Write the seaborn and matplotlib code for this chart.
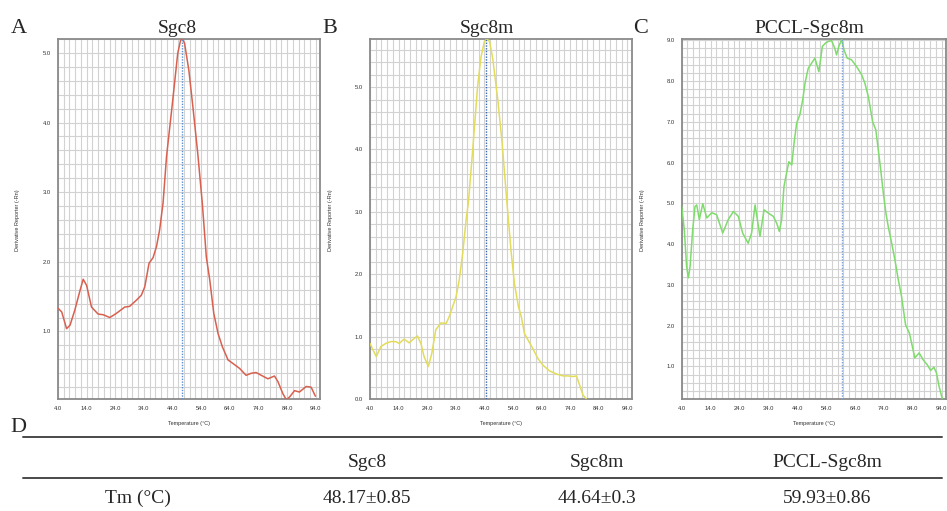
import numpy as np
import pandas as pd
import matplotlib
matplotlib.use("Agg")
import matplotlib.pyplot as plt
import seaborn as sns
from matplotlib.lines import Line2D
from matplotlib.ticker import MultipleLocator, FixedLocator

sns.set_style("white")
plt.rcParams['font.family'] = ['Liberation Sans', 'DejaVu Sans']

# ---------------- data ----------------
samples = ["Sgc8", "Sgc8m", "PCCL-Sgc8m"]
letters = ["A", "B", "C"]

sgc8_temp = [4.1, 5.3, 7.0, 8.2, 9.9, 11.7, 12.8, 14.0, 15.7, 18.0, 19.8, 22.1, 24.4, 27.3,
             29.0, 31.4, 33.1, 34.3, 35.8, 37.2, 38.4, 39.5, 40.7, 41.9, 44.2, 45.8, 46.8,
             47.4, 48.2, 49.7, 51.1, 52.8, 54.4, 55.8, 57.0, 58.4, 59.9, 61.4, 63.4, 65.1,
             67.4, 69.7, 71.5, 73.2, 75.0, 77.3, 79.6, 80.8, 82.5, 83.7, 84.9, 86.6, 88.3,
             90.7, 92.4, 93.9]
sgc8_deriv = [1.33, 1.28, 1.04, 1.09, 1.31, 1.59, 1.75, 1.66, 1.35, 1.25, 1.24, 1.20, 1.26,
              1.35, 1.36, 1.45, 1.52, 1.64, 1.98, 2.06, 2.22, 2.46, 2.85, 3.51, 4.37, 4.99,
              5.18, 5.20, 5.14, 4.75, 4.23, 3.56, 2.84, 2.07, 1.74, 1.26, 0.97, 0.78, 0.59,
              0.54, 0.47, 0.37, 0.40, 0.41, 0.37, 0.32, 0.36, 0.28, 0.11, 0.02, 0.06, 0.15,
              0.13, 0.21, 0.20, 0.07]

sgc8m_temp = [4.0, 4.8, 6.2, 7.8, 9.5, 11.3, 13.0, 14.2, 15.9, 17.7, 19.4, 20.6, 21.8, 22.9,
              24.4, 25.6, 27.0, 28.8, 30.6, 31.7, 32.9, 34.1, 35.2, 36.4, 37.6, 38.4, 39.9,
              41.6, 42.8, 44.0, 44.8, 45.8, 46.9, 48.7, 50.2, 51.8, 53.4, 54.5, 55.9, 56.9,
              58.0, 59.2, 60.9, 62.7, 64.5, 66.8, 69.2, 71.5, 73.2, 75.0, 76.2, 77.3, 78.5,
              79.7]
sgc8m_deriv = [0.89, 0.81, 0.68, 0.84, 0.89, 0.92, 0.92, 0.89, 0.96, 0.90, 0.97, 1.01, 0.89,
               0.68, 0.52, 0.73, 1.11, 1.22, 1.21, 1.32, 1.48, 1.64, 1.91, 2.33, 2.87, 3.15,
               3.99, 5.00, 5.48, 5.73, 5.77, 5.73, 5.46, 4.79, 4.10, 3.19, 2.33, 1.85, 1.48,
               1.32, 1.05, 0.95, 0.81, 0.65, 0.54, 0.45, 0.40, 0.37, 0.37, 0.36, 0.37, 0.22,
               0.06, 0.00]

pccl_temp = [4.0, 4.9, 5.7, 6.3, 6.9, 7.8, 8.6, 9.2, 10.1, 11.3, 12.7, 14.4, 16.1, 18.2, 20.1,
             21.9, 23.6, 25.1, 27.0, 28.2, 29.4, 30.2, 31.1, 32.5, 34.0, 35.7, 36.9, 37.8,
             38.6, 39.4, 40.3, 41.1, 42.1, 42.9, 43.8, 44.9, 45.9, 46.7, 47.8, 49.0, 50.1,
             51.5, 52.7, 53.8, 54.7, 55.9, 57.0, 57.6, 58.4, 59.4, 60.2, 61.3, 62.8, 64.6,
             66.3, 67.4, 68.6, 70.1, 71.2, 72.2, 72.9, 73.8, 74.7, 75.5, 76.7, 77.8, 79.0,
             80.1, 81.5, 82.8, 83.6, 84.7, 86.2, 87.6, 89.0, 90.2, 91.3, 92.2, 93.1, 94.3]
pccl_deriv = [4.92, 4.35, 3.45, 3.17, 3.45, 4.35, 4.92, 4.96, 4.60, 4.99, 4.64, 4.77, 4.72,
              4.27, 4.60, 4.80, 4.68, 4.27, 4.02, 4.27, 4.96, 4.60, 4.19, 4.84, 4.76, 4.68,
              4.51, 4.31, 4.60, 5.41, 5.74, 6.02, 5.94, 6.48, 6.97, 7.17, 7.54, 7.95, 8.31,
              8.44, 8.56, 8.23, 8.85, 8.93, 8.97, 8.99, 8.80, 8.64, 8.85, 9.02, 8.76, 8.56,
              8.52, 8.35, 8.15, 7.95, 7.62, 7.00, 6.80, 6.23, 5.82, 5.25, 4.76, 4.43, 4.02,
              3.62, 3.12, 2.72, 2.02, 1.82, 1.57, 1.21, 1.33, 1.16, 1.04, 0.90, 0.98, 0.84,
              0.51, 0.18]

peak_marker = [47.4, 44.6, 59.4]          # position of the blue Tm cursor in each panel
x_ticks = [4.0, 14.0, 24.0, 34.0, 44.0, 54.0, 64.0, 74.0, 84.0, 94.0]
y_ticks = [[1.0, 2.0, 3.0, 4.0, 5.0],
           [0.0, 1.0, 2.0, 3.0, 4.0, 5.0],
           [1.0, 2.0, 3.0, 4.0, 5.0, 6.0, 7.0, 8.0, 9.0]]
y_limits = [(0.03, 5.2), (0.0, 5.77), (0.2, 9.03)]

table_header = ["Sgc8", "Sgc8m", "PCCL-Sgc8m"]
table_row_label = "Tm (°C)"
tm_values = ["48.17±0.85", "44.64±0.3", "59.93±0.86"]

curve_colors = ["#d8604f", "#e2dc5c", "#7fdc6c"]
cursor_colors = ["#5a8fd8", "#3a68b0", "#7fa0d8"]

temps = [sgc8_temp, sgc8m_temp, pccl_temp]
derivs = [sgc8_deriv, sgc8m_deriv, pccl_deriv]

# ---------------- layout ----------------
W, H = 947, 511
fig = plt.figure(figsize=(W / 100, H / 100), dpi=100)

ax_px = [(58, 262), (370, 261.7), (681.7, 264.3)]
ax_top, ax_bot = 39, 399
title_x = [177.5, 486.5, 809.5]
letter_x = [11, 322, 633]
ylabel_x = [18, 330, 642]

serif = ['Liberation Serif', 'DejaVu Serif']

for i in range(3):
    left, width = ax_px[i]
    ax = fig.add_axes([left / W, (H - ax_bot) / H, width / W, (ax_bot - ax_top) / H])
    df = pd.DataFrame({"Temperature": temps[i], "Derivative": derivs[i]})
    sns.lineplot(data=df, x="Temperature", y="Derivative", ax=ax, sort=False,
                 estimator=None, color=curve_colors[i], linewidth=1.1, zorder=3)
    ax.axvline(peak_marker[i], color=cursor_colors[i], linewidth=1.0,
               linestyle=(0, (1, 1)), zorder=4)

    ax.set_xlim(4.0, 95.5)
    ax.set_ylim(*y_limits[i])
    ax.xaxis.set_major_locator(FixedLocator(x_ticks))
    ax.xaxis.set_minor_locator(MultipleLocator(2.0))
    ax.set_xticklabels([f"{t:.1f}" for t in x_ticks])
    ax.yaxis.set_major_locator(FixedLocator(y_ticks[i]))
    ax.yaxis.set_minor_locator(MultipleLocator(0.2))
    ax.set_yticklabels([f"{t:.1f}" for t in y_ticks[i]])

    ax.grid(True, which="both", color="#d2d2d2", linewidth=0.8)
    ax.set_axisbelow(True)
    for sp in ax.spines.values():
        sp.set_visible(True)
        sp.set_color("#8a8a8a")
        sp.set_linewidth(1.3)
    ax.tick_params(axis="both", which="major", labelsize=4.2, length=2,
                   color="#8a8a8a", pad=3, labelcolor="#333333")
    ax.tick_params(axis="both", which="minor", length=0)

    ax.set_xlabel("Temperature (°C)", fontsize=4.0, color="#333333")
    ax.set_ylabel("Derivative Reporter (-Rn)", fontsize=4.0, color="#333333")
    ax.xaxis.set_label_coords(0.5, -(423 - ax_bot) / (ax_bot - ax_top))
    ax.xaxis.label.set_va("center")
    ax.yaxis.set_label_coords((ylabel_x[i] - left) / width, 0.497)
    ax.yaxis.label.set_va("center")

    fig.text(title_x[i] / W, 1 - 33 / H, samples[i], fontsize=14, family=serif,
             ha="center", va="baseline")
    fig.text(letter_x[i] / W, 1 - 33 / H, letters[i], fontsize=16, family=serif,
             ha="left", va="baseline")

# ---------------- table (panel D) ----------------
fig.text(10 / W, 1 - 432 / H, "D", fontsize=16, family=serif, ha="left", va="baseline")
for yl in (436.7, 478.3):
    fig.add_artist(Line2D([23 / W, 941.5 / W], [1 - yl / H, 1 - yl / H],
                          color="#4a4a4a", linewidth=1.4))
col_x = [367, 597, 827]
for cx, hdr, val in zip(col_x, table_header, tm_values):
    fig.text(cx / W, 1 - 467 / H, hdr, fontsize=14, family=serif, ha="center", va="baseline")
    fig.text(cx / W, 1 - 503 / H, val, fontsize=14, family=serif, ha="center", va="baseline")
fig.text(138 / W, 1 - 503 / H, table_row_label, fontsize=14, family=serif,
         ha="center", va="baseline")

fig.savefig("out.png", dpi=100)
